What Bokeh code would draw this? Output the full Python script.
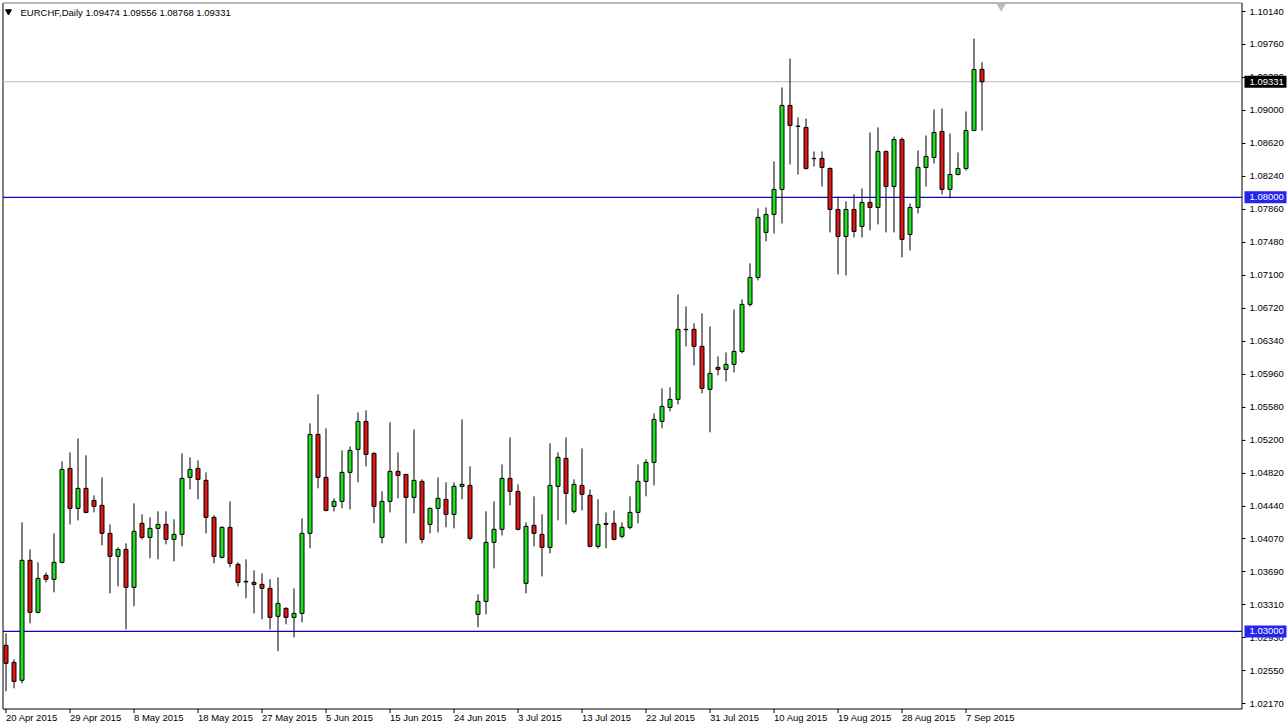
from bokeh.plotting import figure
from bokeh.models import ColumnDataSource, Range1d
from bokeh.embed import file_html
from bokeh.resources import INLINE
from bokeh.core.properties import value

symbol = "EURCHF"
timeframe = "Daily"

opens = [1.02840, 1.02644, 1.02437, 1.03819, 1.03220, 1.03646, 1.03600, 1.03796, 1.04878, 1.04417,
         1.04648, 1.04509, 1.04452, 1.04130, 1.03865, 1.03945, 1.03508, 1.04245, 1.04083, 1.04187,
         1.04233, 1.04060, 1.04118, 1.04774, 1.04878, 1.04740, 1.04314, 1.03853, 1.04199, 1.03773,
         1.03577, 1.03565, 1.03542, 1.03496, 1.03174, 1.03266, 1.03162, 1.03208, 1.04130, 1.05269,
         1.04774, 1.04440, 1.04498, 1.04832, 1.05097, 1.05419, 1.05051, 1.04083, 1.04498, 1.04843,
         1.04809, 1.04544, 1.04728, 1.04233, 1.04417, 1.04521, 1.04348, 1.04671, 1.04682, 1.03197,
         1.03346, 1.04026, 1.04176, 1.04763, 1.04613, 1.03554, 1.04222, 1.04118, 1.03968, 1.04671,
         1.04993, 1.04383, 1.04682, 1.04567, 1.03980, 1.04233, 1.04245, 1.04095, 1.04199, 1.04371,
         1.04728, 1.04947, 1.05419, 1.05580, 1.05673, 1.06479, 1.06479, 1.06283, 1.05788, 1.06041,
         1.06018, 1.06076, 1.06225, 1.06767, 1.07077, 1.07596, 1.07803, 1.08091, 1.09058, 1.08816,
         1.08805, 1.08448, 1.08448, 1.08332, 1.07860, 1.07549, 1.07860, 1.07665, 1.07941, 1.07883,
         1.08528, 1.08125, 1.08666, 1.07572, 1.07883, 1.08344, 1.08459, 1.08759, 1.08091, 1.08263,
         1.08332, 1.08770, 1.09474]
highs = [1.02978, 1.02679, 1.04256, 1.03945, 1.03796, 1.03680, 1.04130, 1.04959, 1.05062, 1.05223,
         1.05028, 1.04567, 1.04774, 1.04233, 1.03968, 1.04014, 1.04475, 1.04348, 1.04314, 1.04383,
         1.04383, 1.04291, 1.05051, 1.05005, 1.04970, 1.04832, 1.04337, 1.04210, 1.04498, 1.03796,
         1.03830, 1.03703, 1.03669, 1.03600, 1.03623, 1.03277, 1.03496, 1.04302, 1.05396, 1.05730,
         1.05339, 1.04533, 1.05085, 1.05131, 1.05523, 1.05546, 1.05062, 1.04613, 1.05408, 1.05062,
         1.04809, 1.05327, 1.04751, 1.04429, 1.04774, 1.04717, 1.04717, 1.05442, 1.04901, 1.03427,
         1.04383, 1.04498, 1.04924, 1.05235, 1.04694, 1.04256, 1.04556, 1.04348, 1.05166, 1.05062,
         1.05235, 1.04751, 1.05108, 1.04636, 1.04521, 1.04371, 1.04394, 1.04256, 1.04556, 1.04924,
         1.04982, 1.05511, 1.05799, 1.05811, 1.06882, 1.06743, 1.06548, 1.06663, 1.06513, 1.06168,
         1.06214, 1.06709, 1.06824, 1.07239, 1.07872, 1.07883, 1.08413, 1.09265, 1.09599, 1.08920,
         1.08908, 1.08528, 1.08528, 1.08344, 1.08010, 1.07952, 1.08033, 1.08102, 1.08747, 1.08805,
         1.08540, 1.08701, 1.08689, 1.07929, 1.08540, 1.08712, 1.09012, 1.09023, 1.08735, 1.08517,
         1.08989, 1.09829, 1.09556]
lows = [1.02310, 1.02345, 1.02402, 1.03093, 1.03208, 1.03565, 1.03450, 1.03784, 1.04233, 1.04279,
        1.04360, 1.04371, 1.03991, 1.03439, 1.03519, 1.03024, 1.03289, 1.04060, 1.03842, 1.03830,
        1.04003, 1.03807, 1.03980, 1.04636, 1.04521, 1.04130, 1.03784, 1.03842, 1.03738, 1.03519,
        1.03381, 1.03208, 1.03139, 1.03024, 1.02771, 1.03082, 1.02932, 1.03105, 1.03957, 1.04648,
        1.04383, 1.04383, 1.04417, 1.04406, 1.04717, 1.04901, 1.04245, 1.04014, 1.04371, 1.04533,
        1.04014, 1.04360, 1.04014, 1.04130, 1.04141, 1.04199, 1.04187, 1.04521, 1.04049, 1.03047,
        1.03197, 1.03726, 1.04106, 1.04452, 1.04164, 1.03439, 1.03980, 1.03634, 1.03899, 1.04279,
        1.04233, 1.04360, 1.04394, 1.03968, 1.03957, 1.03957, 1.04049, 1.04072, 1.04176, 1.04245,
        1.04556, 1.04682, 1.05339, 1.05534, 1.05615, 1.06283, 1.06064, 1.05742, 1.05293, 1.05949,
        1.05880, 1.05983, 1.06202, 1.06743, 1.07043, 1.07492, 1.07584, 1.07699, 1.08379, 1.08263,
        1.08320, 1.08356, 1.08125, 1.07596, 1.07112, 1.07100, 1.07538, 1.07538, 1.07619, 1.07688,
        1.07596, 1.07596, 1.07308, 1.07388, 1.07814, 1.08125, 1.08390, 1.08033, 1.07987, 1.08252,
        1.08309, 1.08770, 1.08768]
closes = [1.02633, 1.02425, 1.03819, 1.03220, 1.03611, 1.03600, 1.03796, 1.04866, 1.04417, 1.04648,
          1.04371, 1.04440, 1.04130, 1.03865, 1.03945, 1.03508, 1.04153, 1.04083, 1.04187, 1.04233,
          1.04060, 1.04118, 1.04763, 1.04866, 1.04751, 1.04314, 1.03865, 1.04199, 1.03784, 1.03565,
          1.03570, 1.03542, 1.03496, 1.03162, 1.03323, 1.03162, 1.03208, 1.04130, 1.05269, 1.04774,
          1.04394, 1.04498, 1.04832, 1.05085, 1.05419, 1.05039, 1.04440, 1.04498, 1.04843, 1.04797,
          1.04544, 1.04740, 1.04060, 1.04417, 1.04533, 1.04348, 1.04671, 1.04694, 1.04072, 1.03346,
          1.04026, 1.04176, 1.04763, 1.04613, 1.04176, 1.04210, 1.04130, 1.03968, 1.04682, 1.05005,
          1.04590, 1.04694, 1.04579, 1.03980, 1.04233, 1.04244, 1.04060, 1.04199, 1.04371, 1.04728,
          1.04947, 1.05442, 1.05592, 1.05673, 1.06479, 1.06475, 1.06283, 1.05799, 1.05972, 1.06018,
          1.06076, 1.06225, 1.06767, 1.07077, 1.07768, 1.07803, 1.08091, 1.09058, 1.08828, 1.08820,
          1.08332, 1.08445, 1.08344, 1.07860, 1.07549, 1.07860, 1.07607, 1.07941, 1.07883, 1.08528,
          1.08125, 1.08666, 1.07515, 1.07883, 1.08344, 1.08471, 1.08747, 1.08091, 1.08263, 1.08332,
          1.08770, 1.09472, 1.09331]

date_tick_bars = [0, 8, 16, 24, 32, 40, 48, 56, 64, 72, 80, 88, 96, 104, 112, 120]
date_tick_labels = ["20 Apr 2015", "29 Apr 2015", "8 May 2015", "18 May 2015", "27 May 2015",
                    "5 Jun 2015", "15 Jun 2015", "24 Jun 2015", "3 Jul 2015", "13 Jul 2015",
                    "22 Jul 2015", "31 Jul 2015", "10 Aug 2015", "19 Aug 2015", "28 Aug 2015",
                    "7 Sep 2015"]
price_ticks = [1.02170, 1.02550, 1.02930, 1.03310, 1.03690, 1.04070, 1.04440, 1.04820,
               1.05200, 1.05580, 1.05960, 1.06340, 1.06720, 1.07100, 1.07480, 1.07860,
               1.08240, 1.08620, 1.09000, 1.09380, 1.09760, 1.10140]
levels = [1.08000, 1.03000]

# ---- styling / layout (not data) ----
FONT = "Liberation Sans"
GREEN = "#22DD22"
RED = "#DD1515"
LEVEL_LINE = "#0505C8"
LEVEL_BOX = "#2525EE"

W, H = 1288, 727
PX_PER_BAR = 8.0
BAR0_PX = 5.5
X0 = -BAR0_PX / PX_PER_BAR
X1 = X0 + W / PX_PER_BAR
PRICE_PER_PX = (price_ticks[-1] - price_ticks[0]) / (703 - 11)
Y_TOP = price_ticks[-1] + 11 * PRICE_PER_PX
Y_BOT = Y_TOP - H * PRICE_PER_PX


def xp(px):
    return X0 + px / PX_PER_BAR


def yp(py):
    return Y_TOP - py * PRICE_PER_PX


CH_L, CH_R, CH_T, CH_B = 2.5, 1241.5, 2.5, 708.5

n = len(opens)
idx = list(range(n))
src = ColumnDataSource(dict(
    x=idx, open=opens, high=highs, low=lows, close=closes,
    top=[max(o, c) for o, c in zip(opens, closes)],
    bottom=[min(o, c) for o, c in zip(opens, closes)],
    color=[GREEN if c >= o else RED for o, c in zip(opens, closes)],
))

p = figure(width=W, height=H, x_range=Range1d(X0, X1), y_range=Range1d(Y_BOT, Y_TOP),
           x_axis_type=None, y_axis_type=None, min_border=0,
           output_backend="svg", toolbar_location=None)
p.outline_line_color = None
p.background_fill_color = "white"
p.border_fill_color = "white"
p.grid.visible = False

# chart frame
p.segment(x0=[xp(CH_L), xp(CH_L), xp(CH_R)], y0=[yp(CH_T), yp(CH_B), yp(CH_T)],
          x1=[xp(CH_L), xp(CH_R), xp(CH_R)], y1=[yp(CH_B), yp(CH_B), yp(CH_B)],
          line_color="black", line_width=1)
p.segment(x0=[xp(CH_L)], y0=[yp(CH_T)], x1=[xp(CH_R)], y1=[yp(CH_T)],
          line_color="#707070", line_width=1)

# horizontal levels and last-price line
p.segment(x0=[xp(CH_L)] * len(levels), x1=[xp(CH_R)] * len(levels), y0=levels, y1=levels,
          line_color=LEVEL_LINE, line_width=1.2)
p.segment(x0=[xp(CH_L)], x1=[xp(CH_R)], y0=[closes[-1]], y1=[closes[-1]],
          line_color="#B8B8B8", line_width=1)

# candles
p.segment(x0="x", y0="low", x1="x", y1="high", source=src, line_color="black", line_width=1)
p.vbar(x="x", width=0.5, top="top", bottom="bottom", source=src,
       fill_color="color", line_color="black", line_width=1)

# right price scale
p.segment(x0=[xp(CH_R)] * len(price_ticks), x1=[xp(CH_R + 3.5)] * len(price_ticks),
          y0=price_ticks, y1=price_ticks, line_color="black", line_width=1)
p.text(x=[xp(1249)] * len(price_ticks), y=price_ticks, text=[f"{t:.5f}" for t in price_ticks],
       text_baseline="middle", text_align="left", text_font=value(FONT),
       text_font_size="9.5px", text_color="black")

# price boxes
box_prices = [closes[-1]] + levels
box_colors = ["black"] + [LEVEL_BOX] * len(levels)
p.rect(x=[xp(1265)] * len(box_prices), y=box_prices, width=42, height=12,
       width_units="screen", height_units="screen", fill_color=box_colors, line_color=None)
p.text(x=[xp(1249)] * len(box_prices), y=box_prices, text=[f"{v:.5f}" for v in box_prices],
       text_baseline="middle", text_align="left", text_font=value(FONT),
       text_font_size="9.5px", text_color="white")

# time scale
p.segment(x0=date_tick_bars, x1=date_tick_bars, y0=[yp(CH_B)] * len(date_tick_bars),
          y1=[yp(CH_B + 4)] * len(date_tick_bars), line_color="black", line_width=1)
p.text(x=date_tick_bars, y=[yp(716.5)] * len(date_tick_bars), text=date_tick_labels, x_offset=0,
       text_baseline="middle", text_align="left", text_font=value(FONT),
       text_font_size="9.5px", text_color="black")

# header
header = f"{symbol},{timeframe}  {opens[-1]:.5f} {highs[-1]:.5f} {lows[-1]:.5f} {closes[-1]:.5f}"
p.text(x=[xp(20)], y=[yp(12)], text=[header], text_baseline="middle", text_align="left",
       text_font=value(FONT), text_font_size="9.5px", text_color="black")
p.scatter(x=[xp(8)], y=[yp(11)], marker="inverted_triangle", size=6,
          fill_color="black", line_color="black")

# chart-shift marker
p.scatter(x=[n + 1.4], y=[yp(6)], marker="inverted_triangle", size=9,
          fill_color="#BEBEBE", line_color=None)

open("out.html", "w").write(file_html(p, INLINE))
